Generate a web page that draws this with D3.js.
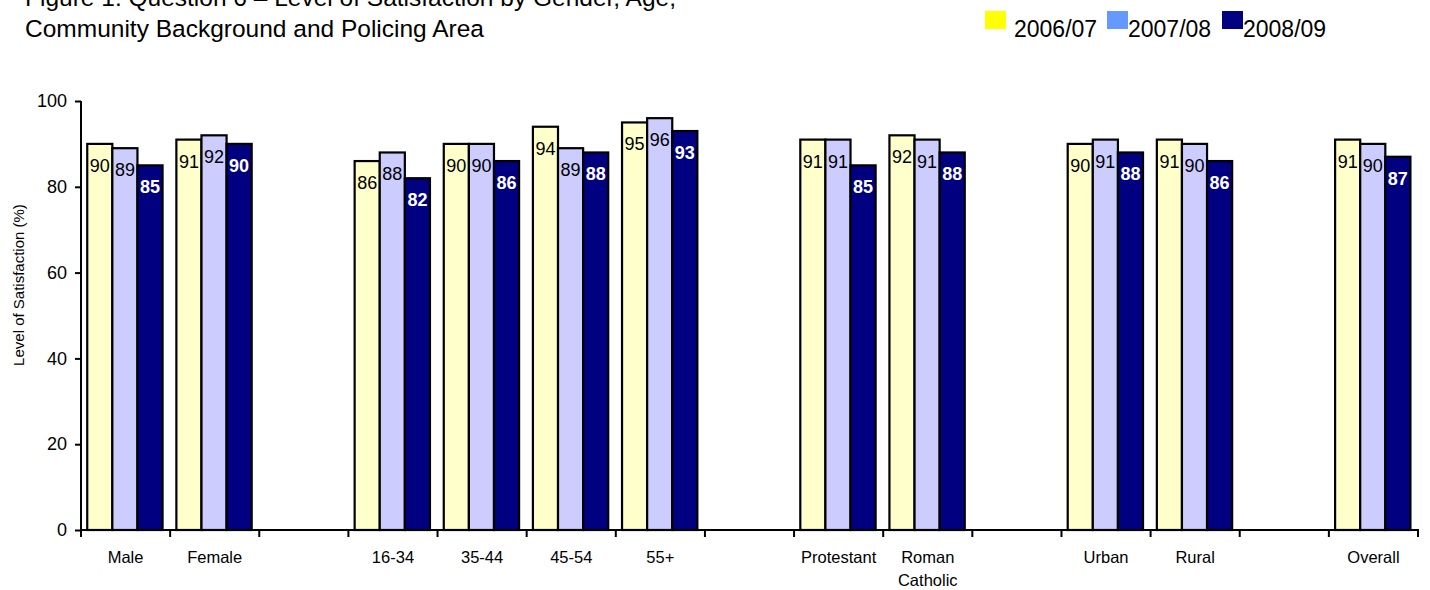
<!DOCTYPE html>
<html>
<head>
<meta charset="utf-8">
<script src="https://cdn.jsdelivr.net/npm/d3@7"></script>
<style>
  html, body { margin: 0; padding: 0; background: #fff; }
  svg { display: block; font-family: "Liberation Sans", Arial, sans-serif; }
</style>
</head>
<body>
<svg id="chart" width="1430" height="590"></svg>
<script>
// Categories along the x axis; empty entries are spacer slots between groups
const categories = ["Male", "Female", "", "16-34", "35-44", "45-54", "55+", " ", "Protestant", "Roman\nCatholic", "  ", "Urban", "Rural", "   ", "Overall"];
const seriesNames = ["2006/07", "2007/08", "2008/09"];
const values0607 = [90, 91, null, 86, 90, 94, 95, null, 91, 92, null, 90, 91, null, 91];
const values0708 = [89, 92, null, 88, 90, 89, 96, null, 91, 91, null, 91, 90, null, 90];
const values0809 = [85, 90, null, 82, 86, 88, 93, null, 85, 88, null, 88, 86, null, 87];
const yTicks = [0, 20, 40, 60, 80, 100];

const barFill = ["#FFFFCC", "#CCCCFF", "#000080"];
const legendFill = ["#FFFF00", "#6699FF", "#000080"];
const labelFill = ["#000", "#000", "#fff"];
const labelWeight = ["normal", "normal", "bold"];

const series = [values0607, values0708, values0809];

const svg = d3.select("#chart");
const plotLeft = 81, plotRight = 1418, plotTop = 101, plotBottom = 530;

const x = d3.scaleBand().domain(categories).range([plotLeft, plotRight]).paddingInner(0).paddingOuter(0);
const bw = x.bandwidth();
const x1 = d3.scaleBand().domain([0, 1, 2]).range([bw * 0.07, bw * 0.915]).padding(0);
const y = d3.scaleLinear().domain([0, 100]).range([plotBottom, plotTop]);

// Title (first line runs off the top edge)
const title = svg.append("g").attr("font-size", 24.5).attr("fill", "#000");
title.append("text").attr("x", 25).attr("y", 6).text("Figure 1: Question 6 \u2013  Level of Satisfaction  by Gender, Age,");
title.append("text").attr("x", 25).attr("y", 37).text("Community Background and Policing Area");

// Legend
const legendItems = [
  { sx: 985, tx: 1014 },
  { sx: 1107, tx: 1128 },
  { sx: 1222, tx: 1243 }
];
const legend = svg.append("g");
legendItems.forEach((d, i) => {
  legend.append("rect").attr("x", d.sx).attr("y", 11).attr("width", 21).attr("height", 18)
    .attr("fill", legendFill[i]);
  legend.append("text").attr("x", d.tx).attr("y", 37).attr("font-size", 23).text(seriesNames[i]);
});

// Bars
const rows = [];
categories.forEach((c, ci) => {
  series.forEach((s, si) => {
    if (s[ci] != null) rows.push({ cat: c, si, v: s[ci] });
  });
});

const bars = svg.append("g");
bars.selectAll("rect").data(rows).join("rect")
  .attr("x", d => x(d.cat) + x1(d.si))
  .attr("y", d => y(d.v))
  .attr("width", x1.bandwidth())
  .attr("height", d => y(0) - y(d.v))
  .attr("fill", d => barFill[d.si])
  .attr("stroke", "#000")
  .attr("stroke-width", 2.2);

bars.selectAll("text").data(rows).join("text")
  .attr("x", d => x(d.cat) + x1(d.si) + x1.bandwidth() / 2)
  .attr("y", d => y(d.v) + 28)
  .attr("text-anchor", "middle")
  .attr("font-size", 18)
  .attr("font-weight", d => labelWeight[d.si])
  .attr("fill", d => labelFill[d.si])
  .text(d => d.v);

// Y axis
const yAxis = svg.append("g").attr("transform", `translate(${plotLeft},0)`)
  .call(d3.axisLeft(y).tickValues(yTicks).tickSize(6).tickPadding(8));
yAxis.select(".domain").attr("stroke", "#000").attr("stroke-width", 2).attr("d", `M0,${plotTop}V${plotBottom}`);
yAxis.selectAll(".tick line").attr("stroke", "#000").attr("stroke-width", 2);
yAxis.selectAll(".tick text").attr("font-size", 18).attr("fill", "#000")
  .attr("font-family", "'Liberation Sans', Arial, sans-serif");

// X axis: ticks at category boundaries
const boundaries = categories.map(c => x(c)).concat([plotRight]);
const xAxisG = svg.append("g");
xAxisG.append("line").attr("x1", plotLeft - 1).attr("x2", plotRight + 1).attr("y1", plotBottom).attr("y2", plotBottom)
  .attr("stroke", "#000").attr("stroke-width", 2);
xAxisG.selectAll("line.tk").data(boundaries).join("line").attr("class", "tk")
  .attr("x1", d => d).attr("x2", d => d).attr("y1", plotBottom).attr("y2", plotBottom + 7)
  .attr("stroke", "#000").attr("stroke-width", 2);

const xl = xAxisG.selectAll("text").data(categories.filter(c => c.trim() !== "")).join("text")
  .attr("x", d => x(d) + bw / 2)
  .attr("y", 563)
  .attr("text-anchor", "middle")
  .attr("font-size", 16.5)
  .attr("fill", "#000");
xl.each(function(d) {
  const lines = d.split("\n");
  const t = d3.select(this);
  lines.forEach((ln, i) => {
    t.append("tspan").attr("x", x(d) + bw / 2).attr("dy", i === 0 ? 0 : 23).text(ln);
  });
});

// Y axis title
svg.append("text")
  .attr("transform", "translate(24,285) rotate(-90)")
  .attr("text-anchor", "middle")
  .attr("font-size", 15)
  .attr("fill", "#000")
  .text("Level of Satisfaction (%)");
</script>
</body>
</html>
